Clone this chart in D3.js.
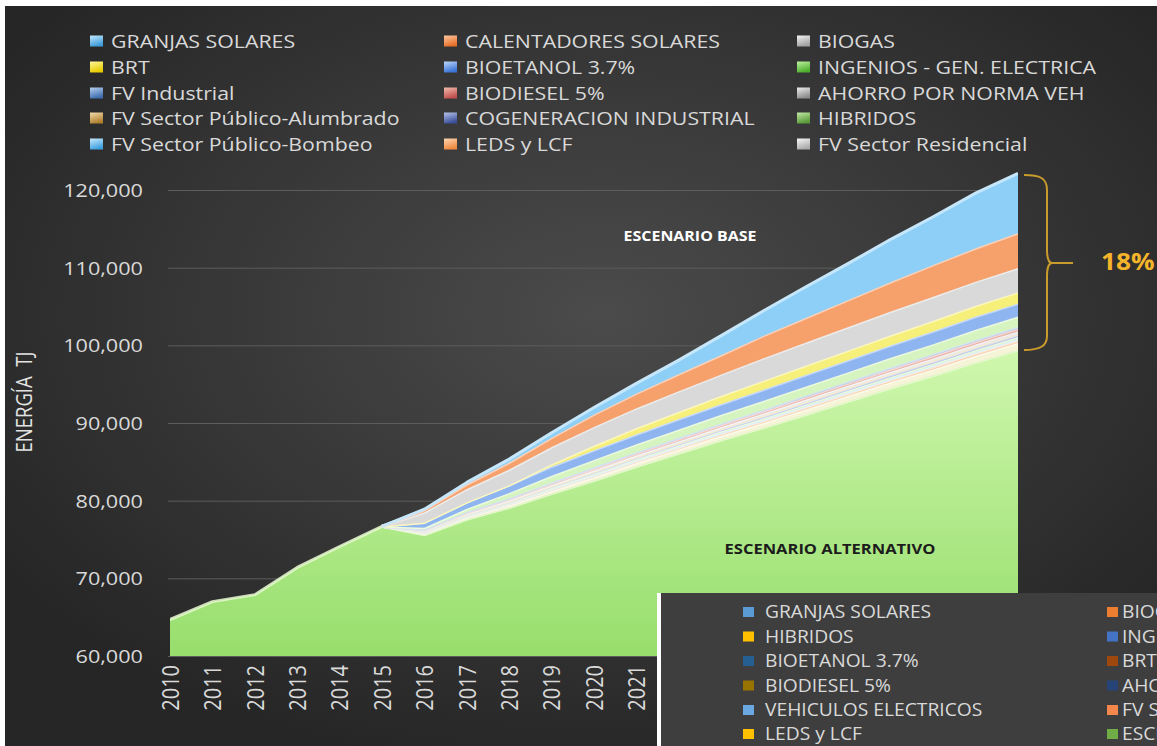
<!DOCTYPE html>
<html><head><meta charset="utf-8">
<script src="https://cdn.jsdelivr.net/npm/d3@7"></script>
<style>html,body{margin:0;padding:0;background:#2a2a2a;overflow:hidden}</style>
</head><body><svg id="c" width="1157" height="746"></svg>
<script>
// ---------------- DATA ----------------
const years = [2010,2011,2012,2013,2014,2015,2016,2017,2018,2019,2020,2021,2022,2023,2024,2025,2026,2027,2028,2029,2030];
const yTicks = [60000,70000,80000,90000,100000,110000,120000];
// Escenario alternativo (base of the stack)
const alternativo = [64700,67000,67900,71400,74100,76700,75600,77600,79100,80900,82600,84400,86100,87800,89400,91100,92800,94500,96100,97800,99400];
// Savings per measure (TJ), stacked above the alternative scenario
const fvResidencial = [0,0,0,0,0,0,200,250,300,350,400,450,500,550,600,650,700,750,800,850,900];
const leds          = [0,0,0,0,0,0,90,120,160,190,220,230,250,280,290,300,320,320,340,350,360];
const fvBombeo      = [0,0,0,0,0,0,30,50,60,80,90,100,110,110,120,120,130,130,140,140,150];
const hibridos      = [0,0,0,0,0,0,60,80,110,130,160,170,180,190,200,220,220,230,240,250,250];
const cogeneracion  = [0,0,0,0,0,0,70,100,120,150,180,190,210,230,240,250,260,270,280,280,290];
const fvAlumbrado   = [0,0,0,0,0,0,30,50,60,80,90,100,100,110,120,130,130,130,140,140,150];
const ahorro        = [0,0,0,0,0,0,70,100,130,150,180,200,210,220,240,250,260,270,280,290,290];
const biodiesel     = [0,0,0,0,0,0,90,120,150,190,220,240,260,270,290,310,310,320,340,350,360];
const fvIndustrial  = [0,0,0,0,0,0,60,80,110,130,160,170,180,190,200,220,220,230,240,250,250];
const ingenios      = [0,0,0,0,0,0,200,400,700,850,950,1000,1050,1100,1150,1150,1200,1250,1250,1300,1300];
const bioetanol     = [0,0,0,0,0,0,700,850,1000,1200,1250,1300,1350,1400,1450,1500,1550,1600,1650,1700,1700];
const brt           = [0,0,0,0,0,0,0,0,0,300,600,800,950,1050,1150,1200,1250,1300,1350,1400,1450];
const biogas        = [0,0,0,0,0,0,1300,1700,2000,2200,2400,2550,2650,2750,2900,2950,3000,3050,3100,3100,3100];
const calentadores  = [0,0,0,0,0,0,300,600,900,1200,1600,1900,2200,2500,2900,3200,3500,3800,4100,4300,4500];
const granjas       = [0,0,0,0,0,0,100,250,450,650,900,1300,1800,2500,3200,4000,4700,5500,6200,7100,7700];

// stack order bottom -> top
const seriesKeys = ["ESCENARIO ALTERNATIVO","FV Sector Residencial","LEDS y LCF","FV Sector Público-Bombeo","HIBRIDOS",
  "COGENERACION INDUSTRIAL","FV Sector Público-Alumbrado","AHORRO POR NORMA VEH","BIODIESEL 5%","FV Industrial",
  "INGENIOS - GEN. ELECTRICA","BIOETANOL 3.7%","BRT","BIOGAS","CALENTADORES SOLARES","GRANJAS SOLARES"];
const seriesValues = [alternativo,fvResidencial,leds,fvBombeo,hibridos,cogeneracion,fvAlumbrado,ahorro,biodiesel,fvIndustrial,
  ingenios,bioetanol,brt,biogas,calentadores,granjas];
const bandColors = ["url(#green)","#f5f4d6","#fbd0b0","#bfe4f7","#d6efc4","#aebde4","#ead7a8","#e6e6e6","#eab1a6","#a9c4e6",
  "#d6f4bf","#8fb5f0","#f6ef7a","#d9d9d9","#f6a06c","#8dcff6"];

// legend (row-major, 3 columns)
const legendNames = ["GRANJAS SOLARES","CALENTADORES SOLARES","BIOGAS","BRT","BIOETANOL 3.7%","INGENIOS - GEN. ELECTRICA",
  "FV Industrial","BIODIESEL 5%","AHORRO POR NORMA VEH","FV Sector Público-Alumbrado","COGENERACION INDUSTRIAL","HIBRIDOS",
  "FV Sector Público-Bombeo","LEDS y LCF","FV Sector Residencial"];
const legendDark  = ["#3f9ddc","#e8702a","#a0a0a0","#e6cc00","#3a74d6","#4cae2c","#3f6fb0","#c0504d","#8c8c8c","#b08030","#3a4f9a","#5a9a3a","#3fa0e0","#ef8a40","#ababab"];
const legendLight = ["#c3e8fc","#fcc89e","#f4f4f4","#fff79a","#bcd6fa","#bdf2a0","#b8d0ef","#f3bcae","#eeeeee","#f2dcab","#b8c4ea","#c2e8a6","#c6eafc","#fdd6b2","#f6f6f6"];

// overlaid second legend (bottom right)
const legend2Col1 = ["GRANJAS SOLARES","HIBRIDOS","BIOETANOL 3.7%","BIODIESEL 5%","VEHICULOS ELECTRICOS","LEDS y LCF"];
const legend2Col1Colors = ["#5b9bd5","#ffc000","#255e91","#997300","#6aa8e2","#ffc000"];
const legend2Col2 = ["BIOGAS","INGENIOS - GEN. ELECTRICA","BRT","AHORRO POR NORMA VEH","FV Sector Residencial","ESCENARIO ALTERNATIVO"];
const legend2Col2Colors = ["#ed7d31","#4472c4","#9e480e","#264478","#f4874b","#70ad47"];

// ---------------- DRAW ----------------
const W = 1157, H = 746, SX = 1.14;
const FONT = "'Open Sans', 'DejaVu Sans', sans-serif";
const svg = d3.select("#c");
const defs = svg.append("defs");

const rg = defs.append("radialGradient").attr("id","bg").attr("cx","0.52").attr("cy","0.42").attr("r","0.62");
rg.append("stop").attr("offset","0").attr("stop-color","#4b4b4b");
rg.append("stop").attr("offset","1").attr("stop-color","#262626");

const gg = defs.append("linearGradient").attr("id","green").attr("gradientUnits","userSpaceOnUse")
  .attr("x1",0).attr("y1",330).attr("x2",0).attr("y2",656);
gg.append("stop").attr("offset","0").attr("stop-color","#d3f9b2");
gg.append("stop").attr("offset","1").attr("stop-color","#97de6c");

defs.append("filter").attr("id","soft").attr("x","-2%").attr("y","-2%").attr("width","104%").attr("height","104%")
  .append("feGaussianBlur").attr("stdDeviation",0.7);

legendNames.forEach((n,i)=>{
  const lg = defs.append("linearGradient").attr("id","lg"+i).attr("x1",0).attr("y1",0).attr("x2",0.35).attr("y2",1);
  lg.append("stop").attr("offset","0").attr("stop-color",legendLight[i]);
  lg.append("stop").attr("offset","1").attr("stop-color",legendDark[i]);
});

svg.append("rect").attr("width",W).attr("height",H).attr("fill","url(#bg)");
svg.append("rect").attr("x",0).attr("y",0).attr("width",W).attr("height",6).attr("fill","#ffffff");
svg.append("rect").attr("x",0).attr("y",0).attr("width",5).attr("height",H).attr("fill","#ffffff");

function txt(g, x, y, s, o) {
  o = o || {};
  return g.append("text").attr("transform",`translate(${x},${y}) scale(${o.sx||SX},1)`)
    .attr("dy","0.35em").attr("text-anchor",o.anchor||"start")
    .style("font-family",FONT).style("font-size",(o.size||18.7)+"px")
    .style("font-weight",o.weight||"normal").attr("fill",o.fill||"#d9d9d9").text(s);
}

// scales
const x = d3.scalePoint().domain(years).range([170,1018]);
const y = d3.scaleLinear().domain([60000,120000]).range([656,190]);

// gridlines
svg.append("g").attr("transform","translate(168,0)")
  .call(d3.axisLeft(y).tickValues(yTicks).tickSize(-850).tickFormat(""))
  .call(g=>g.select(".domain").remove())
  .selectAll("line").attr("stroke","#5d5d5d").attr("stroke-width",1);

// y axis labels
const ya = svg.append("g").attr("transform","translate(170,0)")
  .call(d3.axisLeft(y).tickValues(yTicks).tickSize(0).tickFormat(d3.format(",")));
ya.select(".domain").remove();
ya.selectAll("text").attr("x",0).attr("dy","0.35em")
  .attr("transform",`translate(-27,0) scale(${SX},1)`)
  .attr("fill","#d9d9d9").style("font-family",FONT).style("font-size","19px");

// x axis labels
const xa = svg.append("g").attr("transform","translate(0,656)")
  .call(d3.axisBottom(x).tickSize(0));
xa.select(".domain").remove();
xa.selectAll("text").attr("x",0).attr("y",0).attr("dy","0.36em")
  .attr("transform",`translate(0,9) scale(${SX},1) rotate(-90)`)
  .style("text-anchor","end").attr("fill","#d9d9d9")
  .style("font-family",FONT).style("font-size","20px");

// y axis title
svg.append("text").attr("transform",`translate(25,402) scale(${SX},1) rotate(-90)`)
  .attr("text-anchor","middle").attr("dy","0.35em").attr("fill","#e2e2e2")
  .style("font-family",FONT).style("font-size","18.5px").style("white-space","pre")
  .text("ENERGÍA  TJ");

// stacked areas
const rows = years.map((yr,i)=>{
  const r = {year: yr};
  seriesKeys.forEach((k,j)=>{ r[k] = seriesValues[j][i]; });
  return r;
});
const stacked = d3.stack().keys(seriesKeys)(rows);

defs.append("clipPath").attr("id","plotClip").append("rect")
  .attr("x",170).attr("y",0).attr("width",848).attr("height",656);

const plot = svg.append("g").attr("clip-path","url(#plotClip)").append("g").attr("filter","url(#soft)");
const area = d3.area().x(d=>x(d.data.year)).y0(d=>y(d[0])).y1(d=>y(d[1]));
const topLine = d3.line().x(d=>x(d.data.year)).y(d=>y(d[1]));
stacked.forEach((layer,i)=>{
  plot.append("path").datum(layer).attr("d",area).attr("fill",bandColors[i]);
  const hl = i===0 ? "#e9fbd2" : d3.interpolateRgb(bandColors[i],"#ffffff")(0.5);
  const pts = i===0 ? layer : layer.filter(d=>d.data.year>=2015);
  plot.append("path").datum(pts).attr("d",topLine).attr("fill","none")
    .attr("stroke",hl).attr("stroke-width",3).attr("stroke-opacity",i===0?0.85:1)
    .attr("stroke-linejoin","round");
});

// annotations
txt(svg, 690, 236, "ESCENARIO BASE", {anchor:"middle", weight:"bold", size:14, fill:"#ffffff"});
txt(svg, 830, 549, "ESCENARIO ALTERNATIVO", {anchor:"middle", weight:"bold", size:14.5, fill:"#1c1c1c"});

svg.append("path")
  .attr("d","M1024,175 C1040,175 1047,178 1047,190 L1047,250 C1047,258 1049,263 1052,263 C1049,263 1047,268 1047,276 L1047,336 C1047,346 1040,350 1024,350")
  .attr("fill","none").attr("stroke","#c99a2c").attr("stroke-width",2);
svg.append("line").attr("x1",1052).attr("y1",263).attr("x2",1073).attr("y2",263)
  .attr("stroke","#c99a2c").attr("stroke-width",2);
txt(svg, 1101, 262, "18%", {weight:"bold", size:23, fill:"#f5b52a"});

// main legend
const lgX = [90,444,797], lgY = [41,67,93,118,144];
legendNames.forEach((n,i)=>{
  const c = i%3, r = Math.floor(i/3);
  svg.append("rect").attr("x",lgX[c]).attr("y",lgY[r]-5.5).attr("width",13).attr("height",11)
    .attr("fill",`url(#lg${i})`);
  txt(svg, lgX[c]+21, lgY[r], n, {size:18.7});
});

// overlaid second chart legend (bottom-right)
const ov = svg.append("g");
ov.append("rect").attr("x",657).attr("y",593).attr("width",500).attr("height",153).attr("fill","#3e3e3e");
ov.append("rect").attr("x",657).attr("y",593).attr("width",4).attr("height",153).attr("fill","#ffffff");
const ovY = [612,636.5,661,685.5,710,734];
legend2Col1.forEach((n,i)=>{
  ov.append("rect").attr("x",743).attr("y",ovY[i]-5).attr("width",11).attr("height",10).attr("fill",legend2Col1Colors[i]);
  txt(ov, 765, ovY[i], n, {size:17.5, sx:1.1});
});
legend2Col2.forEach((n,i)=>{
  ov.append("rect").attr("x",1107).attr("y",ovY[i]-5).attr("width",11).attr("height",10).attr("fill",legend2Col2Colors[i]);
  txt(ov, 1122, ovY[i], n, {size:17.5, sx:1.1});
});
</script></body></html>
